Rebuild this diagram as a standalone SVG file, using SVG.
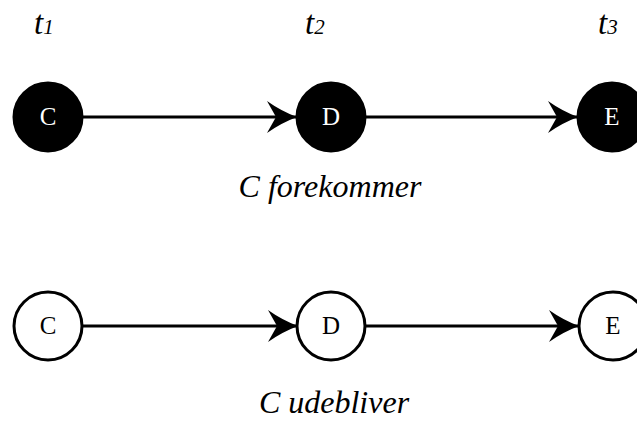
<svg xmlns="http://www.w3.org/2000/svg" width="637" height="423" viewBox="0 0 637 423">
<defs>
<marker id="ah" viewBox="0 0 30 32" refX="29" refY="16" markerWidth="30" markerHeight="32" markerUnits="userSpaceOnUse" orient="auto">
<path d="M0,0 Q14,10 30,16 Q14,22 0,32 L9,16 Z" fill="#000"/>
</marker>
</defs>
<style>
.t{font-family:'Liberation Serif','Times New Roman',serif;font-style:italic;font-size:33px;fill:#000}
.s{font-size:21px}
.cap{font-family:'Liberation Serif','Times New Roman',serif;font-style:italic;font-size:32px;fill:#000}
.lbl{font-family:'Liberation Serif','Times New Roman',serif;font-size:25px;text-anchor:middle}
.full circle{fill:#000;stroke:#000;stroke-width:3}
.full text{fill:#fff}
.empty circle{fill:#fff;stroke:#000;stroke-width:3}
.empty text{fill:#000}
.edge{stroke:#000;stroke-width:3;fill:none}
</style>
<rect width="637" height="423" fill="#fff"/>
<g id="timelabels">
<text class="t" x="34" y="34">t<tspan class="s">1</tspan></text>
<text class="t" x="305" y="34">t<tspan class="s">2</tspan></text>
<text class="t" x="598" y="34">t<tspan class="s">3</tspan></text>
</g>
<g id="connectors">
<line class="edge" x1="83" y1="117" x2="296" y2="117" marker-end="url(#ah)"/>
<line class="edge" x1="366" y1="117" x2="577" y2="117" marker-end="url(#ah)"/>
<line class="edge" x1="82" y1="326" x2="297" y2="326" marker-end="url(#ah)"/>
<line class="edge" x1="366" y1="326" x2="578" y2="326" marker-end="url(#ah)"/>
</g>
<g id="nodeC1" class="full"><circle cx="48" cy="117" r="34"/><text class="lbl" x="48" y="125">C</text></g>
<g id="nodeD1" class="full"><circle cx="331" cy="117" r="34"/><text class="lbl" x="331" y="125">D</text></g>
<g id="nodeE1" class="full"><circle cx="612" cy="117" r="34"/><text class="lbl" x="612" y="125">E</text></g>
<g id="nodeC2" class="empty"><circle cx="48" cy="326" r="34"/><text class="lbl" x="48" y="334">C</text></g>
<g id="nodeD2" class="empty"><circle cx="331" cy="326" r="34"/><text class="lbl" x="331" y="334">D</text></g>
<g id="nodeE2" class="empty"><circle cx="613" cy="326" r="34"/><text class="lbl" x="613" y="334">E</text></g>
<text class="cap" x="330" y="197" text-anchor="middle">C forekommer</text>
<text class="cap" x="334" y="413" text-anchor="middle">C udebliver</text>
</svg>
